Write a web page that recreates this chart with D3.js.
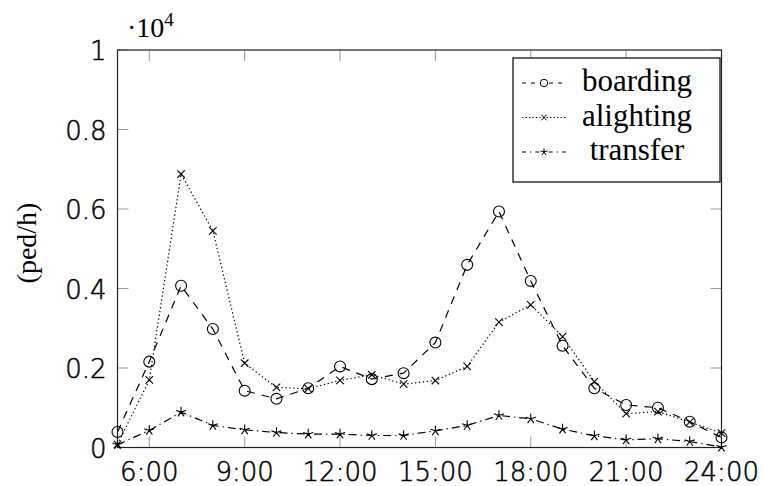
<!DOCTYPE html>
<html>
<head>
<meta charset="utf-8">
<script src="https://cdn.jsdelivr.net/npm/d3@7"></script>
<style>
  html, body { margin: 0; padding: 0; background: #fff; }
  svg { display: block; }
</style>
</head>
<body>
<svg id="chart" width="763" height="486"></svg>
<script>
// Hourly pedestrian flow (ped/h) at the station, 5:00 to 24:00
const hours = [5, 6, 7, 8, 9, 10, 11, 12, 13, 14, 15, 16, 17, 18, 19, 20, 21, 22, 23, 24];
const boarding  = [390, 2160, 4070, 2980, 1430, 1225, 1490, 2040, 1720, 1870, 2640, 4595, 5936, 4190, 2560, 1490, 1070, 1000, 650, 250];
const alighting = [80, 1700, 6880, 5450, 2120, 1510, 1480, 1690, 1830, 1595, 1685, 2040, 3155, 3590, 2790, 1660, 850, 905, 640, 360];
const transfer  = [70, 430, 890, 555, 445, 377, 336, 336, 302, 302, 420, 555, 806, 722, 462, 294, 194, 219, 151, 10];

const xTicks = [6, 9, 12, 15, 18, 21, 24];
const yTicks = [0, 2000, 4000, 6000, 8000, 10000];
const seriesNames = ["boarding", "alighting", "transfer"];

const svg = d3.select("#chart");
const plotL = 117.5, plotR = 721.5, plotT = 50, plotB = 447.5;

const x = d3.scaleLinear().domain([5, 24]).range([plotL, plotR]);
const y = d3.scaleLinear().domain([0, 10000]).range([plotB, plotT]);

const tickFont = "'DejaVu Sans', sans-serif";
const serifFont = "'Liberation Serif', 'DejaVu Serif', serif";

// five-armed asterisk marker
const star5 = {
  draw(ctx, size) {
    const r = Math.sqrt(size);
    for (let i = 0; i < 5; i++) {
      const a = -Math.PI / 2 + i * 2 * Math.PI / 5;
      ctx.moveTo(0, 0);
      ctx.lineTo(r * Math.cos(a), r * Math.sin(a));
    }
  }
};
const cross = {
  draw(ctx, size) {
    const r = Math.sqrt(size);
    ctx.moveTo(-r, -r); ctx.lineTo(r, r);
    ctx.moveTo(-r, r); ctx.lineTo(r, -r);
  }
};
const ring = {
  draw(ctx, size) {
    const r = Math.sqrt(size);
    ctx.moveTo(r, 0);
    ctx.arc(0, 0, r, 0, 2 * Math.PI);
  }
};

const series = [
  { name: seriesNames[0], values: boarding,  dash: "8,7",       mark: ring,  size: 30 },
  { name: seriesNames[1], values: alighting, dash: "1.3,2.6",   mark: cross, size: 14 },
  { name: seriesNames[2], values: transfer,  dash: "8,4,1.3,4", mark: star5, size: 28 }
];

// axes: ticks pointing inwards on all four sides
const tickLen = 11;
const gx = svg.append("g");
xTicks.forEach(t => {
  gx.append("line").attr("x1", x(t)).attr("x2", x(t)).attr("y1", plotB).attr("y2", plotB - tickLen)
    .attr("stroke", "#9a9a9a").attr("stroke-width", 1);
  gx.append("line").attr("x1", x(t)).attr("x2", x(t)).attr("y1", plotT).attr("y2", plotT + tickLen)
    .attr("stroke", "#9a9a9a").attr("stroke-width", 1);
  gx.append("text").attr("x", x(t)).attr("y", plotB + 33).attr("text-anchor", "middle")
    .attr("font-family", tickFont).attr("font-weight", 300).attr("font-size", 26).attr("fill", "#000")
    .attr("stroke", "#000").attr("stroke-width", 0.5)
    .text(t + ":00");
});
const gy = svg.append("g");
yTicks.forEach(t => {
  gy.append("line").attr("x1", plotL).attr("x2", plotL + tickLen).attr("y1", y(t)).attr("y2", y(t))
    .attr("stroke", "#9a9a9a").attr("stroke-width", 1);
  gy.append("line").attr("x1", plotR).attr("x2", plotR - tickLen).attr("y1", y(t)).attr("y2", y(t))
    .attr("stroke", "#9a9a9a").attr("stroke-width", 1);
  gy.append("text").attr("x", plotL - 11).attr("y", y(t) + 10).attr("text-anchor", "end")
    .attr("font-family", tickFont).attr("font-weight", 300).attr("font-size", 26).attr("fill", "#000")
    .attr("stroke", "#000").attr("stroke-width", 0.5)
    .text(d3.format("~g")(t / 10000));
});

svg.append("rect").attr("x", plotL).attr("y", plotT).attr("width", plotR - plotL).attr("height", plotB - plotT)
  .attr("fill", "none").attr("stroke", "#222").attr("stroke-width", 1.2);

// scale factor label
const sf = svg.append("text").attr("x", 127).attr("y", 37)
  .attr("font-family", serifFont).attr("font-size", 28).attr("fill", "#000");
sf.append("tspan").text("\u00b710");
sf.append("tspan").attr("dy", -11).attr("font-size", 19).text("4");

// y axis title
svg.append("text").attr("transform", `translate(36,243) rotate(-90)`)
  .attr("text-anchor", "middle").attr("font-family", serifFont).attr("font-size", 28).attr("fill", "#000")
  .text("(ped/h)");

// series lines and markers
const line = d3.line().x(d => x(d[0])).y(d => y(d[1]));
series.forEach(s => {
  const pts = hours.map((h, i) => [h, s.values[i]]);
  svg.append("path").datum(pts).attr("d", line).attr("fill", "none")
    .attr("stroke", "#000").attr("stroke-width", 1.2).attr("stroke-dasharray", s.dash);
  svg.append("g").selectAll("path").data(pts).join("path")
    .attr("transform", d => `translate(${x(d[0])},${y(d[1])})`)
    .attr("d", d3.symbol(s.mark, s.size)())
    .attr("fill", "none").attr("stroke", "#000").attr("stroke-width", 1.1);
});

// legend
const lg = svg.append("g");
lg.append("rect").attr("x", 513).attr("y", 58).attr("width", 207).attr("height", 124)
  .attr("fill", "#fff").attr("stroke", "#000").attr("stroke-width", 1.2);
const legendMarks = [
  { dash: "4,5", size: 14 },
  { dash: "1.3,2.2", size: 8 },
  { dash: "4,4,1.3,4", size: 14 }
];
series.forEach((s, i) => {
  const cy = 83 + i * 34.5;
  lg.append("line").attr("x1", 522).attr("x2", 566).attr("y1", cy).attr("y2", cy)
    .attr("stroke", "#000").attr("stroke-width", 1).attr("stroke-dasharray", legendMarks[i].dash);
  lg.append("path").attr("transform", `translate(544,${cy})`)
    .attr("d", d3.symbol(s.mark, legendMarks[i].size)())
    .attr("fill", "#fff").attr("stroke", "#000").attr("stroke-width", 1);
  lg.append("text").attr("x", 637).attr("y", cy + 8).attr("text-anchor", "middle")
    .attr("font-family", serifFont).attr("font-size", 31).attr("fill", "#000")
    .text(s.name);
});
</script>
</body>
</html>
